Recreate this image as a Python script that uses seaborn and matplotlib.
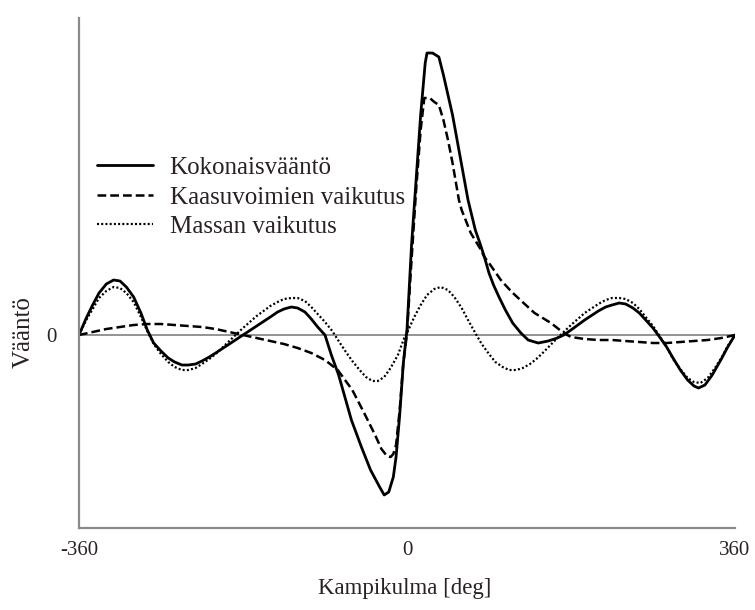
import matplotlib
matplotlib.use("Agg")
import matplotlib.pyplot as plt
import seaborn as sns
import pandas as pd

# ---- data (crank angle in degrees, torque in arbitrary units) ----
angle_total = [-360, -352, -345, -338, -330, -322, -315, -308, -300, -292, -285, -278, -270,
               -262, -255, -247, -240, -232, -225, -217, -210, -195, -180, -165, -150, -142,
               -135, -127, -120, -112, -105, -98, -90, -83, -75, -61, -50, -40, -30, -25, -20,
               -15, -12, -8, -4, 0, 5, 10, 15, 20, 22, 28, 35, 40, 45, 50, 55, 60, 67, 75, 80,
               85, 90, 95, 101, 108, 116, 125, 133, 144, 155, 165, 172, 180, 195, 210, 218, 225,
               233, 240, 248, 255, 262, 270, 278, 285, 292, 300, 308, 315, 320, 327, 335, 345,
               352, 360]
torque_total = [0.0, 0.17, 0.30, 0.42, 0.51, 0.55, 0.54, 0.48, 0.38, 0.22, 0.05, -0.08, -0.16,
                -0.23, -0.27, -0.30, -0.30, -0.29, -0.26, -0.22, -0.18, -0.09, 0.0, 0.09, 0.18,
                0.23, 0.26, 0.28, 0.27, 0.23, 0.16, 0.08, 0.0, -0.20, -0.40, -0.85, -1.12, -1.35,
                -1.52, -1.60, -1.57, -1.42, -1.22, -0.80, -0.28, 0.05, 0.90, 1.55, 2.20, 2.72,
                2.82, 2.82, 2.78, 2.60, 2.40, 2.20, 1.95, 1.70, 1.35, 1.05, 0.92, 0.78, 0.62, 0.50,
                0.38, 0.25, 0.12, 0.02, -0.05, -0.08, -0.06, -0.03, 0.0, 0.05, 0.15, 0.24, 0.28,
                0.30, 0.32, 0.31, 0.27, 0.22, 0.15, 0.07, -0.03, -0.12, -0.23, -0.35, -0.45,
                -0.51, -0.53, -0.50, -0.40, -0.24, -0.12, 0.0]

angle_gas = [-360, -345, -330, -315, -300, -285, -270, -255, -240, -225, -210, -195, -180, -165,
             -150, -135, -120, -105, -90, -76, -60, -47, -35, -28, -22, -18, -15, -12, -8, -4, 0,
             5, 10, 15, 19, 25, 30, 35, 40, 45, 50, 57, 60, 70, 80, 85, 90, 103, 115, 128, 140,
             158, 172, 180, 195, 210, 225, 240, 255, 270, 285, 300, 315, 330, 345, 360]
torque_gas = [0.0, 0.03, 0.06, 0.08, 0.10, 0.11, 0.11, 0.10, 0.09, 0.08, 0.06, 0.03, 0.0, -0.03,
              -0.06, -0.09, -0.13, -0.18, -0.25, -0.35, -0.55, -0.78, -1.0, -1.14, -1.21, -1.22,
              -1.19, -1.10, -0.75, -0.28, 0.02, 0.75, 1.45, 2.05, 2.37, 2.37, 2.33, 2.30, 2.15,
              1.95, 1.72, 1.35, 1.25, 1.02, 0.87, 0.78, 0.72, 0.55, 0.43, 0.32, 0.22, 0.12, 0.02,
              -0.02, -0.04, -0.05, -0.05, -0.06, -0.07, -0.08, -0.08, -0.07, -0.06, -0.05, -0.03,
              0.0]

angle_mass = [-360, -352, -345, -338, -330, -322, -315, -308, -300, -292, -285, -278, -270,
              -262, -255, -247, -240, -232, -225, -217, -210, -195, -180, -165, -150, -142, -135,
              -127, -120, -112, -105, -98, -90, -82, -75, -67, -60, -52, -45, -38, -32, -25, -18,
              -10, -3, 0, 8, 15, 22, 30, 37, 45, 52, 60, 67, 75, 82, 90, 97, 105, 112, 120, 127,
              135, 142, 150, 165, 180, 195, 210, 218, 225, 233, 240, 248, 255, 262, 270, 278,
              285, 292, 300, 308, 315, 322, 330, 338, 345, 352, 360]
torque_mass = [0.0, 0.15, 0.26, 0.37, 0.44, 0.48, 0.47, 0.42, 0.33, 0.18, 0.04, -0.09, -0.19,
               -0.27, -0.32, -0.35, -0.35, -0.33, -0.29, -0.24, -0.19, -0.06, 0.07, 0.19, 0.29,
               0.33, 0.36, 0.37, 0.37, 0.34, 0.28, 0.21, 0.13, 0.04, -0.06, -0.17, -0.26, -0.35,
               -0.42, -0.46, -0.46, -0.42, -0.33, -0.20, -0.03, 0.02, 0.18, 0.30, 0.40, 0.46,
               0.48, 0.45, 0.38, 0.27, 0.15, 0.02, -0.09, -0.19, -0.27, -0.32, -0.35, -0.35,
               -0.33, -0.29, -0.24, -0.17, -0.03, 0.10, 0.22, 0.31, 0.35, 0.37, 0.37, 0.36, 0.32,
               0.26, 0.18, 0.09, -0.02, -0.12, -0.24, -0.34, -0.43, -0.47, -0.48, -0.43, -0.33,
               -0.23, -0.11, 0.0]

series_labels = ["Kokonaisvääntö", "Kaasuvoimien vaikutus", "Massan vaikutus"]
x_ticks = [-360, 0, 360]
x_tick_labels = ["-360", "0", "360"]
y_ticks = [0]
y_tick_labels = ["0"]
x_label = "Kampikulma [deg]"
y_label = "Vääntö"

# ---- figure ----
sns.set_theme(style="white")
plt.rcParams["font.family"] = ["Liberation Serif", "DejaVu Serif"]
text_color = "#2a2222"
spine_color = "#8a8a8a"

fig = plt.figure(figsize=(7.55, 6.1), dpi=100)
ax = fig.add_axes([0.1046, 0.1344, 0.8689, 0.8361])

ax.axhline(0, color=spine_color, lw=1.3, zorder=1)

df_t = pd.DataFrame({"angle": angle_total, "torque": torque_total})
df_g = pd.DataFrame({"angle": angle_gas, "torque": torque_gas})
df_m = pd.DataFrame({"angle": angle_mass, "torque": torque_mass})

sns.lineplot(data=df_t, x="angle", y="torque", ax=ax, color="black", lw=2.0,
             label=series_labels[0], sort=False)
sns.lineplot(data=df_g, x="angle", y="torque", ax=ax, color="black", lw=1.8,
             linestyle=(0, (3.5, 1.6)), label=series_labels[1], sort=False)
sns.lineplot(data=df_m, x="angle", y="torque", ax=ax, color="black", lw=1.6,
             linestyle=(0, (0.9, 1.0)), label=series_labels[2], sort=False)

ax.set_xlim(-360, 360)
ax.set_ylim(-1.93, 3.17)

for side in ["top", "right"]:
    ax.spines[side].set_visible(False)
for side in ["left", "bottom"]:
    ax.spines[side].set_color(spine_color)
    ax.spines[side].set_linewidth(1.6)

ax.set_xticks(x_ticks)
ax.set_xticklabels(x_tick_labels)
ax.set_yticks(y_ticks)
ax.set_yticklabels(y_tick_labels)
ax.tick_params(axis="x", direction="in", length=6, width=1.2, color=spine_color,
               labelsize=15, labelcolor=text_color, pad=9)
ax.tick_params(axis="y", length=0, labelsize=15, labelcolor=text_color, pad=16)

ax.set_xlabel(x_label, fontsize=16.5, color=text_color)
ax.set_ylabel(y_label, fontsize=18, color=text_color)
ax.xaxis.set_label_coords(0.497, -0.098)
ax.yaxis.set_label_coords(-0.068, 0.384)

leg = ax.legend(loc="upper left", bbox_to_anchor=(0.027, 0.728), frameon=False,
                fontsize=18, handlelength=2.24, handletextpad=0.68, labelspacing=0.28,
                borderaxespad=0, borderpad=0)
for t in leg.get_texts():
    t.set_color(text_color)

fig.savefig("out.png", dpi=100)
